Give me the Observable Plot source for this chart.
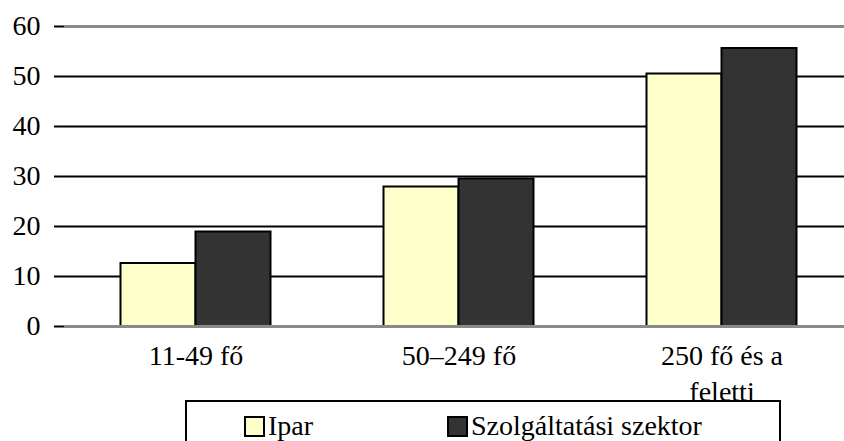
<!DOCTYPE html>
<html>
<head>
<meta charset="utf-8">
<script src="https://cdn.jsdelivr.net/npm/d3@7"></script>
<script src="https://cdn.jsdelivr.net/npm/@observablehq/plot@0.6"></script>
<style>
  html, body { margin: 0; padding: 0; background: white; }
  #wrap { position: relative; width: 844px; height: 441px; overflow: hidden; font-family: "Liberation Serif", "Times New Roman", "DejaVu Serif", "Liberation Sans", sans-serif; }
  #chart svg text { font-family: "Liberation Serif", "Times New Roman", "DejaVu Serif", "Liberation Sans", sans-serif !important; font-size: 28px !important; fill: black; }
  #legend { position: absolute; left: 185px; top: 400px; width: 596px; height: 60px; border: 2px solid black; box-sizing: border-box; font-size: 28px; color: black; }
  .item { position: absolute; top: 10px; display: flex; align-items: center; line-height: 1; }
  .sw { width: 17px; height: 17px; border: 2px solid black; margin-right: 3px; }
</style>
</head>
<body>
<div id="wrap"><div id="chart"></div><div id="legend"></div></div>
<script>
const categories = ["11-49 fő", "50–249 fő", "250 fő és a\nfeletti"];
const series = ["Ipar", "Szolgáltatási szektor"];
const ipar = [12.6, 27.9, 50.5];
const szolg = [18.9, 29.5, 55.6];
const colors = ["#FFFFCC", "#333333"];
const yTicks = [0, 10, 20, 30, 40, 50, 60];

const data = [];
categories.forEach((c, i) => {
  data.push({cat: c, series: series[0], value: ipar[i]});
  data.push({cat: c, series: series[1], value: szolg[i]});
});

const chart = Plot.plot({
  width: 844,
  height: 441,
  marginTop: 26,
  marginBottom: 115,
  marginLeft: 63.5,
  marginRight: 0,
  fx: {domain: categories, range: [63.5, 852.5], paddingInner: 0, paddingOuter: 0, label: null},
  x: {domain: series, paddingInner: 0, paddingOuter: 0.74, axis: null},
  y: {domain: [0, 60], label: null},
  color: {domain: series, range: colors},
  marks: [
    Plot.ruleY([10, 20, 30, 40, 50], {stroke: "black", strokeWidth: 2}),
    Plot.ruleY([60], {stroke: "#8a8a8a", strokeWidth: 3}),
    Plot.barY(data, {fx: "cat", x: "series", y: "value", fill: "series", stroke: "black", strokeWidth: 2, insetLeft: 0, insetRight: 0}),
    Plot.ruleY([0], {stroke: "#8a8a8a", strokeWidth: 3}),
    Plot.axisY({ticks: yTicks, tickSize: 10, tickPadding: 14, stroke: "black", strokeWidth: 2, strokeOpacity: 1, line: true, label: null, tickFormat: d => String(d)}),
    Plot.axisFx({anchor: "bottom", tickSize: 0, tickPadding: 13, lineHeight: 1.28, label: null})
  ]
});
document.getElementById("chart").appendChild(chart);

const legend = document.getElementById("legend");
const lefts = [57, 260];
series.forEach((s, i) => {
  const item = document.createElement("div");
  item.className = "item";
  item.style.left = lefts[i] + "px";
  const sw = document.createElement("div");
  sw.className = "sw";
  sw.style.background = colors[i];
  const t = document.createElement("span");
  t.textContent = s;
  item.appendChild(sw);
  item.appendChild(t);
  legend.appendChild(item);
});
</script>
</body>
</html>
